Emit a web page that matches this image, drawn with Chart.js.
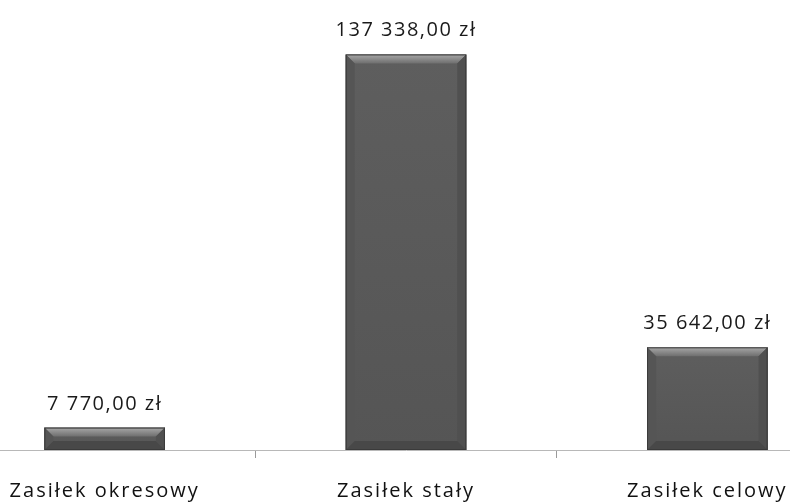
<!DOCTYPE html>
<html>
<head>
<meta charset="utf-8">
<script src="https://cdn.jsdelivr.net/npm/chart.js@4"></script>
<style>
  html, body { margin: 0; padding: 0; background: #fff; overflow: hidden; }
  body { width: 790px; height: 504px; position: relative; }
  /* plot area runs past both edges of the picture, as in the original */
  #wrap { position: absolute; left: -46px; top: 0; width: 904px; height: 504px; }
</style>
</head>
<body>
<div id="wrap"><canvas id="chart"></canvas></div>
<script>
const categories = ["Zasiłek okresowy", "Zasiłek stały", "Zasiłek celowy"];
const amounts = [7770, 137338, 35642];

function fmtZl(v) {
  const [int, dec] = v.toFixed(2).split(".");
  return int.replace(/\B(?=(\d{3})+(?!\d))/g, " ") + "," + dec + " zł";
}

const FONT = "'Open Sans', 'DejaVu Sans', sans-serif";

// bevelled grey bars, drawn over each bar element
const bevel = {
  id: "bevel",
  afterDatasetsDraw(chart) {
    const ctx = chart.ctx;
    chart.getDatasetMeta(0).data.forEach(bar => {
      const l = bar.x - bar.width / 2, r = bar.x + bar.width / 2;
      const t = bar.y, b = bar.base;
      const s = Math.min(9, (b - t) / 2);
      ctx.save();
      const body = ctx.createLinearGradient(0, t, 0, b);
      body.addColorStop(0, "#5e5e5e");
      body.addColorStop(1, "#555555");
      ctx.fillStyle = body;
      ctx.fillRect(l, t, r - l, b - t);
      const poly = (pts, fill) => {
        ctx.beginPath();
        ctx.moveTo(pts[0][0], pts[0][1]);
        pts.slice(1).forEach(p => ctx.lineTo(p[0], p[1]));
        ctx.closePath();
        ctx.fillStyle = fill;
        ctx.fill();
      };
      const topG = ctx.createLinearGradient(0, t, 0, t + s);
      topG.addColorStop(0, "#a8a8a8");
      topG.addColorStop(1, "#6e6e6e");
      poly([[l, t], [r, t], [r - s, t + s], [l + s, t + s]], topG);
      poly([[l, t], [l + s, t + s], [l + s, b - s], [l, b]], "#555555");
      poly([[r, t], [r - s, t + s], [r - s, b - s], [r, b]], "#505050");
      poly([[l, b], [l + s, b - s], [r - s, b - s], [r, b]], "#484848");
      ctx.strokeStyle = "#3a3a3a";
      ctx.lineWidth = 1;
      ctx.strokeRect(l + 0.5, t + 0.5, r - l - 1, b - t - 1);
      ctx.restore();
    });
  },
};

const valueLabels = {
  id: "valueLabels",
  afterDatasetsDraw(chart) {
    const ctx = chart.ctx;
    ctx.save();
    ctx.letterSpacing = "1.5px";
    ctx.font = `20px ${FONT}`;
    ctx.fillStyle = "#1a1a1a";
    ctx.textAlign = "center";
    ctx.textBaseline = "alphabetic";
    chart.getDatasetMeta(0).data.forEach((bar, i) => {
      ctx.fillText(fmtZl(amounts[i]), bar.x, bar.y - 18);
    });
    ctx.restore();
  },
};

const spacing = {
  id: "spacing",
  beforeDraw(chart) { chart.ctx.letterSpacing = "2px"; },
};

new Chart(document.getElementById("chart"), {
  type: "bar",
  data: {
    labels: categories,
    datasets: [{
      data: amounts,
      backgroundColor: "#585858",
      borderWidth: 0,
      barPercentage: 0.4,
      categoryPercentage: 1,
    }],
  },
  options: {
    responsive: true,
    maintainAspectRatio: false,
    animation: false,
    devicePixelRatio: 1,
    layout: { padding: { top: 18, right: 0, bottom: 0, left: 0 } },
    plugins: { legend: { display: false }, tooltip: { enabled: false } },
    scales: {
      x: {
        afterFit: (scale) => { scale.height = 54; },
        grid: { offset: true, drawOnChartArea: false, drawTicks: true, tickLength: 8, color: "#9a9a9a" },
        border: { display: true, color: "#b8b8b8", dash: [1, 1] },
        ticks: {
          color: "#111",
          font: { family: FONT, size: 20, lineHeight: 1.2 },
          padding: 21,
          maxRotation: 0,
        },
      },
      y: { display: false, min: 0, max: 150000 },
    },
  },
  plugins: [spacing, bevel, valueLabels],
});
</script>
</body>
</html>
